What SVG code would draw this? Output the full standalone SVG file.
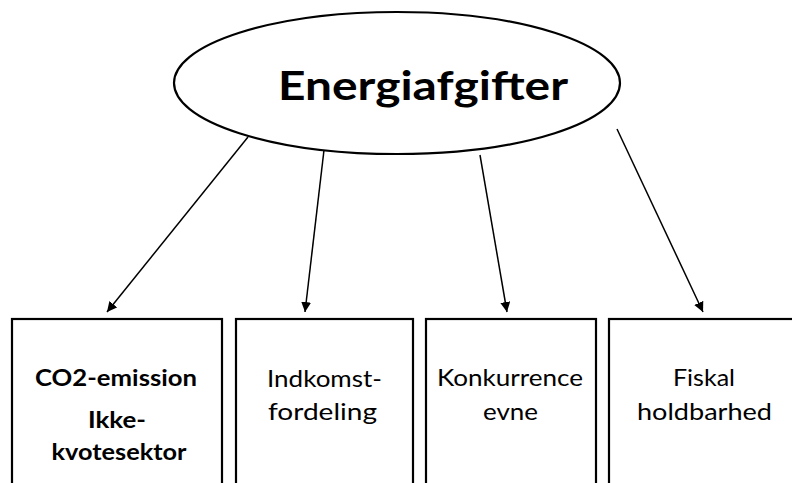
<svg xmlns="http://www.w3.org/2000/svg" width="792" height="483" viewBox="0 0 792 483">
<style>
.box{fill:#fff;stroke:#000;stroke-width:2.2}
.t{font-family:Lato,"Open Sans","Liberation Sans",sans-serif;fill:#000;text-anchor:middle}
.b{font-weight:bold}
.con line{stroke:#000;stroke-width:1.5;marker-end:url(#ah)}
</style>
<defs>
<marker id="ah" viewBox="0 0 10 10" refX="10" refY="5" markerWidth="10" markerHeight="10" markerUnits="userSpaceOnUse" orient="auto">
<path d="M0,0 L10,5 L0,10 z" fill="#000"/>
</marker>
</defs>
<rect width="792" height="483" fill="#fff"/>
<g id="root">
<ellipse cx="397" cy="83" rx="223" ry="71" fill="#fff" stroke="#000" stroke-width="2.2"/>
<text class="t b" x="423" y="100" font-size="41" textLength="290" lengthAdjust="spacingAndGlyphs">Energiafgifter</text>
</g>
<g class="con" id="connectors">
<line x1="248" y1="137" x2="107" y2="312"/>
<line x1="324" y1="150" x2="305" y2="312"/>
<line x1="480" y1="155" x2="507" y2="312"/>
<line x1="617" y1="129" x2="703" y2="312"/>
</g>
<g id="n1">
<rect class="box" x="12" y="319" width="210" height="180"/>
<text class="t b" x="116" y="386" font-size="22" textLength="162" lengthAdjust="spacingAndGlyphs">CO2-emission</text>
<text class="t b" x="117" y="428" font-size="22" textLength="58" lengthAdjust="spacingAndGlyphs">Ikke-</text>
<text class="t b" x="119" y="460" font-size="22" textLength="135" lengthAdjust="spacingAndGlyphs">kvotesektor</text>
</g>
<g id="n2">
<rect class="box" x="236" y="319" width="177" height="180"/>
<text class="t" x="324.5" y="387" font-size="23" textLength="115" lengthAdjust="spacingAndGlyphs">Indkomst-</text>
<text class="t" x="322.5" y="420" font-size="23" textLength="109" lengthAdjust="spacingAndGlyphs">fordeling</text>
</g>
<g id="n3">
<rect class="box" x="426" y="319" width="170" height="180"/>
<text class="t" x="510" y="386" font-size="23" textLength="146" lengthAdjust="spacingAndGlyphs">Konkurrence</text>
<text class="t" x="510.5" y="420" font-size="23" textLength="55" lengthAdjust="spacingAndGlyphs">evne</text>
</g>
<g id="n4">
<rect class="box" x="609" y="319" width="200" height="180"/>
<text class="t" x="704" y="386" font-size="23" textLength="62" lengthAdjust="spacingAndGlyphs">Fiskal</text>
<text class="t" x="704.5" y="420" font-size="23" textLength="135" lengthAdjust="spacingAndGlyphs">holdbarhed</text>
</g>
</svg>
